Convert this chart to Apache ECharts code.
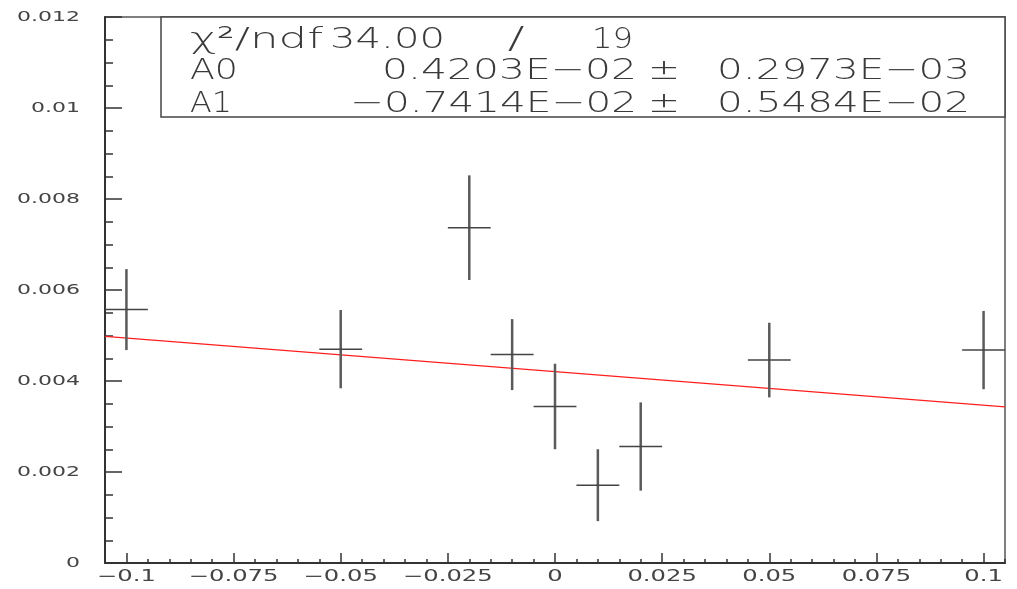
<!DOCTYPE html>
<html>
<head>
<meta charset="utf-8">
<script src="https://cdn.jsdelivr.net/npm/echarts@6/dist/echarts.min.js"></script>
<style>
html,body{margin:0;padding:0;background:#fff;}
#chart{width:1017px;height:589px;}
</style>
</head>
<body>
<div id="chart"></div>
<script>
// ---- data ----
const xVals  = [-0.1, -0.05, -0.02, -0.01, 0, 0.01, 0.02, 0.05, 0.1];
const yVals  = [0.00557, 0.00470, 0.00737, 0.00458, 0.00344, 0.00171, 0.00256, 0.00446, 0.00468];
const yErrs  = [0.00089, 0.00086, 0.00115, 0.00078, 0.00094, 0.00079, 0.00097, 0.00082, 0.00086];
const xErrs  = [0.005, 0.005, 0.005, 0.005, 0.005, 0.005, 0.005, 0.005, 0.005];
const fitX   = [-0.105, 0.105];
const fitY   = [0.00498, 0.00343];
const xTickValues = [-0.1, -0.075, -0.05, -0.025, 0, 0.025, 0.05, 0.075, 0.1];
const xTickLabels = ['\u22120.1', '\u22120.075', '\u22120.05', '\u22120.025', '0', '0.025', '0.05', '0.075', '0.1'];
const yTickValues = [0, 0.002, 0.004, 0.006, 0.008, 0.01, 0.012];
const yTickLabels = ['0', '0.002', '0.004', '0.006', '0.008', '0.01', '0.012'];
const statChi2Label = '\u03C7\u00B2/ndf';
const statChi2 = '34.00';
const statNdf = '19';
const statNames = ['A0', 'A1'];
const statValues = ['0.4203E\u221202', '\u22120.7414E\u221202'];
const statErrors = ['0.2973E\u221203', '0.5484E\u221202'];

// ---- text measuring helper (to stretch text like the original wide font) ----
const FAMILY = 'DejaVu Sans';
const mctx = document.createElement('canvas').getContext('2d');
function textW(str, size, weight) {
  mctx.font = weight + ' ' + size + 'px ' + FAMILY;
  return mctx.measureText(str).width;
}
const BOX_FS = 29, BOX_W = 200, BOX_COL = '#3a3a3a';
function stretched(str, left, right, cy) {
  return {
    type: 'text', x: left, y: cy, z: 110,
    scaleX: (right - left) / textW(str, BOX_FS, BOX_W),
    style: { text: str, fontSize: BOX_FS, fontFamily: FAMILY, fontWeight: BOX_W,
             fill: BOX_COL, align: 'left', verticalAlign: 'middle' }
  };
}
function centered(str, cx, cy, sx, size) {
  return {
    type: 'text', x: cx, y: cy, z: 110, scaleX: sx,
    style: { text: str, fontSize: size, fontFamily: FAMILY, fontWeight: BOX_W,
             fill: BOX_COL, align: 'center', verticalAlign: 'middle' }
  };
}
const XL_FS = 15, YL_FS = 14;
const sxX = 54 / textW('0.05', XL_FS, 'normal');
const sxY = 63 / textW('0.012', YL_FS, 'normal');

const rowY = [40, 71, 104];
const graphics = [
  { type: 'rect', z: 100, shape: { x: 161, y: 17, width: 844, height: 100 },
    style: { fill: '#fff', stroke: '#444', lineWidth: 1.5 } },
  stretched(statChi2Label, 190, 323, rowY[0]),
  stretched(statChi2, 330, 445, rowY[0]),
  centered('/', 516, rowY[0], 1.6, 31),
  stretched(statNdf, 592, 633, rowY[0]),
  stretched(statNames[0], 190, 238, rowY[1]),
  stretched(statValues[0], 382, 637, rowY[1]),
  stretched('\u00B1', 648, 680, rowY[1]),
  stretched(statErrors[0], 717, 970, rowY[1]),
  stretched(statNames[1], 190, 232, rowY[2]),
  stretched(statValues[1], 350, 637, rowY[2]),
  stretched('\u00B1', 648, 680, rowY[2]),
  stretched(statErrors[1], 717, 970, rowY[2])
];

const axisCol = '#333';
const chart = echarts.init(document.getElementById('chart'), null, { renderer: 'canvas' });
const option = {
  animation: false,
  backgroundColor: '#fff',
  grid: { left: 105, right: 12, top: 17, bottom: 26, show: true,
          borderColor: '#555', borderWidth: 1.5, backgroundColor: 'transparent' },
  xAxis: [
    { type: 'value', min: -0.105, max: 0.105, position: 'bottom',
      axisLine: { show: true, onZero: false, lineStyle: { color: axisCol, width: 2 } },
      axisTick: { show: true, inside: true, length: 10, customValues: xTickValues,
                  lineStyle: { color: axisCol, width: 1.5 } },
      axisLabel: { show: false }, splitLine: { show: false } },
    { type: 'value', min: -0.105, max: 0.105, interval: 0.005, position: 'bottom',
      axisLine: { show: false, onZero: false },
      axisTick: { show: true, inside: true, length: 4, lineStyle: { color: axisCol, width: 1.5 } },
      axisLabel: { show: false }, splitLine: { show: false } }
  ],
  yAxis: {
    type: 'value', min: 0, max: 0.012, interval: 0.002,
    axisLine: { show: true, onZero: false, lineStyle: { color: axisCol, width: 2 } },
    axisTick: { show: true, inside: true, length: 17, lineStyle: { color: axisCol, width: 1.5 } },
    minorTick: { show: true, splitNumber: 4, length: 8, lineStyle: { color: axisCol, width: 1.5 } },
    axisLabel: { show: false }, splitLine: { show: false }
  },
  graphic: graphics,
  series: [
    { type: 'line', name: 'fit', xAxisIndex: 0, showSymbol: false, z: 2,
      data: fitX.map((x, i) => [x, fitY[i]]),
      lineStyle: { color: '#ff1e1e', width: 1.2 } },
    { type: 'custom', name: 'data', xAxisIndex: 0, clip: true, z: 3,
      data: xVals.map((x, i) => [x, yVals[i], yErrs[i], xErrs[i]]),
      encode: { x: 0, y: 1 },
      renderItem: function (params, api) {
        const x = api.value(0), y = api.value(1), ey = api.value(2), ex = api.value(3);
        const t = api.coord([x, y + ey]), b = api.coord([x, y - ey]);
        const l = api.coord([x - ex, y]), r = api.coord([x + ex, y]);
        return { type: 'group', children: [
          { type: 'line', shape: { x1: t[0], y1: t[1], x2: b[0], y2: b[1] },
            style: { stroke: '#5a5a5a', lineWidth: 2.5 } },
          { type: 'line', shape: { x1: l[0], y1: l[1], x2: r[0], y2: r[1] },
            style: { stroke: '#444', lineWidth: 1.5 } }
        ]};
      } },
    { type: 'custom', name: 'xlabels', xAxisIndex: 0, clip: false, silent: true,
      data: xTickValues.map(v => [v, 0]),
      encode: { x: 0, y: 1 },
      renderItem: function (params, api) {
        const p = api.coord([api.value(0), api.value(1)]);
        return { type: 'text', x: p[0], y: p[1] + 14, scaleX: sxX,
          style: { text: xTickLabels[params.dataIndex], fontSize: XL_FS, fontFamily: FAMILY,
                   fill: '#444', align: 'center', verticalAlign: 'middle' } };
      } },
    { type: 'custom', name: 'ylabels', xAxisIndex: 0, clip: false, silent: true,
      data: yTickValues.map(v => [-0.105, v]),
      encode: { x: 0, y: 1 },
      renderItem: function (params, api) {
        const p = api.coord([api.value(0), api.value(1)]);
        return { type: 'text', x: p[0] - 25, y: p[1], scaleX: sxY,
          style: { text: yTickLabels[params.dataIndex], fontSize: YL_FS, fontFamily: FAMILY,
                   fill: '#444', align: 'right', verticalAlign: 'middle' } };
      } }
  ]
};
chart.setOption(option);
</script>
</body>
</html>
